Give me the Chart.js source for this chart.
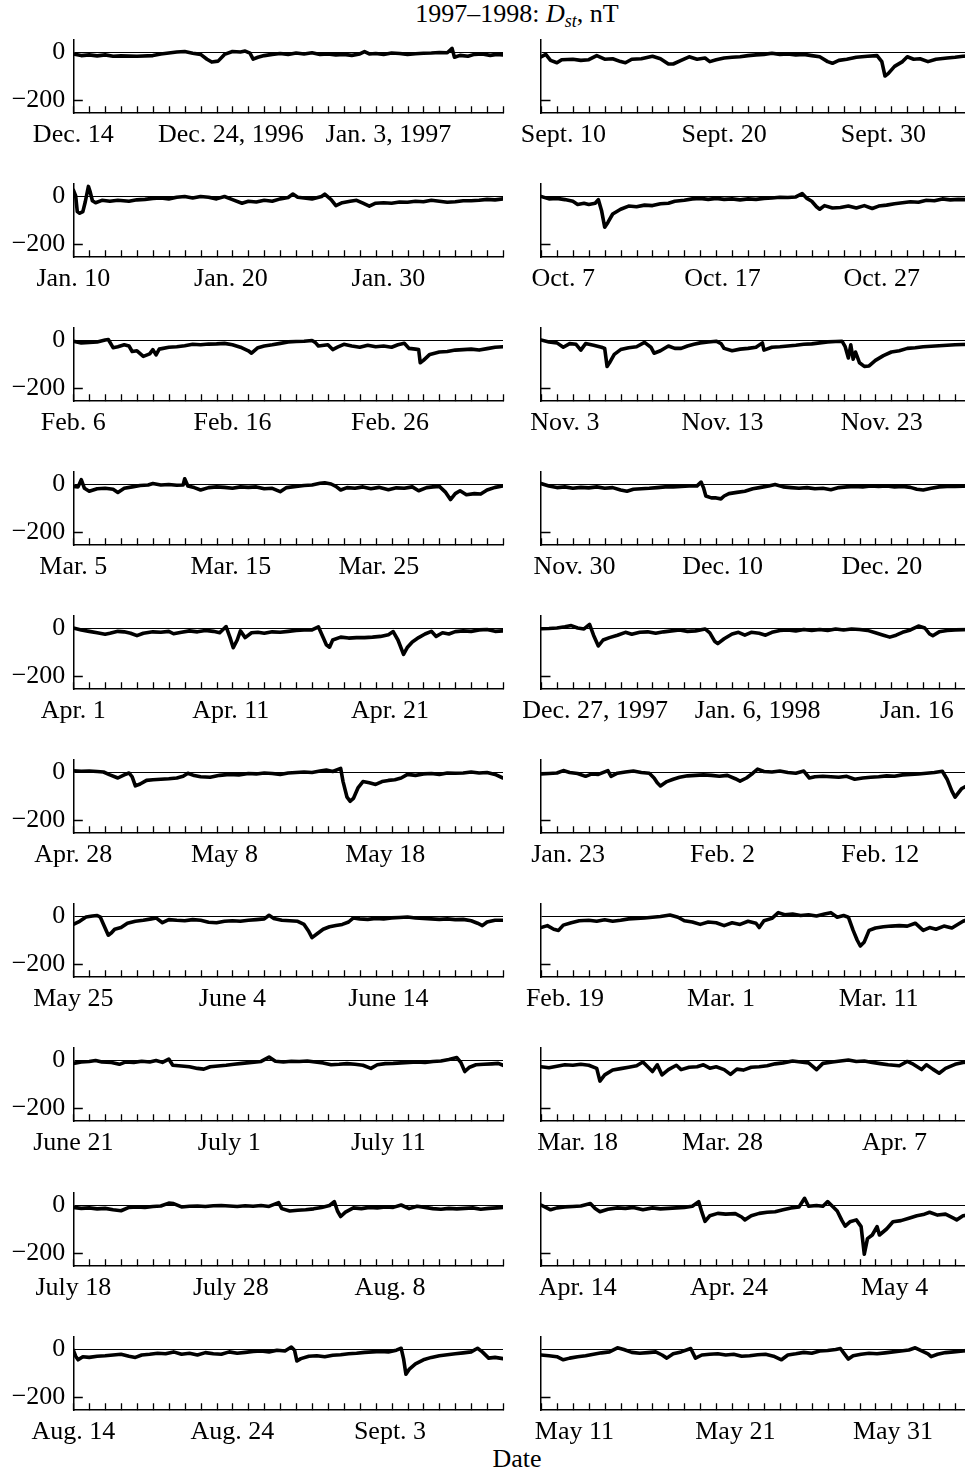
<!DOCTYPE html>
<html>
<head>
<meta charset="utf-8">
<script src="https://cdn.jsdelivr.net/npm/chart.js@4.4.1/dist/chart.umd.min.js"></script>
<style>
  body { margin: 0; background: #fff; overflow: hidden; }
  #page { position: relative; width: 965px; height: 1472px; overflow: hidden; background: #fff;
          font-family: "Liberation Serif", "Times New Roman", serif; color: #000; }
  #page canvas { position: absolute; }
  #title { position: absolute; top: -1px; left: 517px; transform: translateX(-50%); font-size: 26px; white-space: nowrap; }
  #title sub { font-size: 18px; vertical-align: -5px; line-height: 0; }
  #xtitle { position: absolute; top: 1444px; left: 517px; transform: translateX(-50%); font-size: 26px; }
</style>
</head>
<body>
<div id="page">
  <div id="title">1997&ndash;1998: <i>D<sub>st</sub></i>, nT</div>
  <div id="xtitle">Date</div>
</div>
<script>
// Dst, nT: [day from panel start, value]
const dec14 = [[0,-8],[0.5,-15],[1,-12],[1.5,-16],[2,-12],[2.5,-18],[3,-16],[4,-18],[5,-15],[5.5,-8],[6,-4],[6.5,0],[7,2],[7.5,-5],[8,-10],[8.4,-30],[8.7,-42],[9.1,-38],[9.5,-10],[10,2],[10.5,0],[10.8,4],[11.1,-5],[11.3,-30],[11.6,-22],[12,-15],[12.5,-10],[13,-6],[13.5,-10],[14,-4],[14.5,-8],[15,-3],[15.5,-10],[16,-8],[16.5,-12],[17,-10],[17.5,-14],[18,-8],[18.3,2],[18.6,-8],[19,-6],[19.5,-10],[20,-4],[20.5,-6],[21,-10],[21.5,-7],[22,-5],[22.5,-4],[23,-2],[23.5,-3],[23.8,15],[23.95,-22],[24.3,-14],[24.8,-18],[25.2,-10],[25.7,-8],[26.2,-14],[26.6,-10],[27,-12]];
const jan10 = [[0,25],[0.15,0],[0.25,-65],[0.4,-72],[0.6,-65],[0.75,-25],[0.95,40],[1.05,20],[1.2,-20],[1.4,-28],[1.8,-18],[2.3,-22],[2.8,-18],[3.5,-22],[4,-16],[4.5,-14],[5,-10],[5.5,-8],[6,-12],[6.5,-5],[7,-2],[7.5,-8],[8,-2],[8.5,-5],[9,-12],[9.5,-2],[10,-15],[10.6,-30],[11,-22],[11.5,-25],[12,-18],[12.5,-22],[13,-12],[13.5,-6],[13.8,8],[14.1,-5],[14.5,-8],[15,-12],[15.6,-2],[15.8,8],[16.2,-15],[16.5,-40],[16.9,-28],[17.4,-22],[17.8,-18],[18.2,-30],[18.6,-42],[19,-30],[19.5,-28],[20,-30],[20.5,-25],[21,-26],[21.5,-22],[22,-24],[22.5,-18],[23,-22],[23.5,-26],[24,-24],[24.5,-20],[25,-20],[25.5,-18],[26,-14],[26.5,-16],[27,-12]];
const feb6 = [[0,-5],[0.5,-12],[1,-10],[1.5,-8],[2,0],[2.2,2],[2.5,-32],[2.8,-28],[3.2,-20],[3.5,-25],[3.7,-48],[4,-45],[4.4,-68],[4.8,-58],[5,-40],[5.2,-62],[5.4,-38],[6,-30],[6.5,-28],[7,-24],[7.5,-18],[8,-20],[8.5,-17],[9,-16],[9.5,-14],[10,-20],[10.5,-30],[11,-45],[11.2,-55],[11.6,-32],[12,-25],[12.5,-20],[13,-14],[13.5,-8],[14,-6],[14.5,-5],[15,-2],[15.2,-10],[15.4,-25],[16,-20],[16.3,-40],[16.6,-30],[17,-18],[17.5,-25],[18,-30],[18.5,-22],[19,-28],[19.5,-25],[20,-30],[20.4,-20],[20.8,-14],[21.1,-35],[21.5,-38],[21.7,-40],[21.8,-95],[22,-85],[22.4,-60],[23,-50],[23.5,-48],[24,-42],[24.5,-40],[25,-38],[25.5,-42],[26,-36],[26.5,-30],[27,-28]];
const mar5 = [[0,-10],[0.3,-12],[0.5,18],[0.7,-18],[1,-30],[1.5,-20],[2,-18],[2.5,-22],[2.8,-35],[3.2,-18],[3.7,-12],[4.2,-6],[4.7,-4],[5,2],[5.5,-4],[6,-2],[6.5,-5],[6.9,-4],[7,22],[7.2,-8],[7.6,-15],[8,-25],[8.5,-15],[9,-12],[9.5,-14],[10,-18],[10.5,-12],[11,-14],[11.5,-12],[12,-20],[12.5,-18],[13,-32],[13.4,-15],[14,-10],[14.5,-6],[15,-4],[15.5,3],[15.8,5],[16.2,0],[16.5,-10],[16.8,-25],[17.2,-15],[17.7,-18],[18.2,-12],[18.7,-20],[19.2,-14],[19.8,-24],[20.3,-16],[20.8,-18],[21.3,-12],[21.7,-28],[22.2,-15],[22.6,-12],[23,-10],[23.4,-35],[23.7,-65],[24,-40],[24.3,-28],[24.7,-45],[25.2,-40],[25.6,-42],[26,-25],[26.5,-14],[27,-8]];
const apr1 = [[0,0],[0.5,-8],[1,-14],[1.5,-20],[2,-26],[2.3,-22],[2.8,-14],[3.2,-16],[3.6,-22],[4,-32],[4.4,-22],[5,-16],[5.5,-18],[6,-14],[6.3,-24],[6.8,-18],[7.3,-12],[7.8,-16],[8.3,-10],[8.8,-14],[9.2,-20],[9.6,6],[9.85,-40],[10.05,-82],[10.3,-50],[10.5,-12],[10.8,-40],[11.2,-20],[11.6,-18],[12,-22],[12.5,-16],[13,-18],[13.5,-14],[14,-10],[14.5,-8],[15,-8],[15.4,5],[15.7,-40],[15.9,-70],[16.1,-80],[16.3,-50],[16.8,-38],[17.3,-42],[17.8,-40],[18.3,-40],[18.8,-38],[19.3,-35],[19.8,-28],[20.1,-15],[20.4,-50],[20.75,-110],[21,-80],[21.3,-58],[21.7,-40],[22.1,-25],[22.5,-14],[22.8,-35],[23.2,-20],[23.6,-25],[24,-15],[24.5,-12],[25,-14],[25.5,-8],[26,-6],[26.5,-14],[27,-12]];
const apr28 = [[0,5],[0.5,3],[1,4],[1.5,2],[1.9,0],[2.3,-12],[2.8,-25],[3.2,-12],[3.5,-4],[3.7,-20],[3.9,-58],[4.2,-50],[4.6,-35],[5,-32],[5.5,-30],[6,-28],[6.5,-25],[6.9,-18],[7.2,-5],[7.6,-15],[8,-20],[8.6,-22],[9.2,-14],[9.8,-10],[10.4,-12],[11,-6],[11.5,-8],[12,-4],[12.5,-6],[13,-10],[13.5,-4],[14,-2],[14.5,0],[15,-2],[15.5,4],[15.9,8],[16.3,2],[16.8,15],[16.95,-40],[17.2,-105],[17.4,-122],[17.6,-110],[17.9,-65],[18.2,-40],[18.6,-45],[19,-52],[19.4,-40],[19.8,-35],[20.2,-32],[20.6,-25],[21,-10],[21.5,-14],[22,-8],[22.5,-6],[23,-10],[23.5,-4],[24,-5],[24.5,-4],[25,0],[25.5,-4],[26,-2],[26.5,-10],[27,-25]];
const may25 = [[0,-35],[0.4,-22],[0.8,-4],[1.2,0],[1.5,2],[1.7,-5],[1.9,-35],[2.2,-80],[2.4,-70],[2.6,-55],[3,-48],[3.4,-30],[3.9,-22],[4.4,-18],[4.9,-12],[5.2,-8],[5.6,-28],[6,-15],[6.5,-18],[7,-20],[7.5,-15],[8,-18],[8.5,-26],[9,-28],[9.5,-22],[10,-20],[10.5,-22],[11,-18],[11.5,-15],[12,-12],[12.3,3],[12.6,-10],[13.1,-18],[13.6,-20],[14.1,-22],[14.5,-35],[14.8,-65],[15,-90],[15.3,-75],[15.7,-55],[16.1,-45],[16.5,-40],[16.9,-35],[17.3,-25],[17.6,-8],[18,-12],[18.5,-14],[19,-10],[19.5,-12],[20,-8],[20.5,-6],[21,-4],[21.5,-8],[22,-10],[22.5,-12],[23,-14],[23.5,-12],[24,-15],[24.5,-14],[25,-20],[25.4,-30],[25.7,-40],[26,-25],[26.5,-18],[27,-18]];
const jun21 = [[0,-14],[0.5,-8],[1,-6],[1.4,-2],[1.8,-8],[2.4,-10],[2.9,-18],[3.3,-8],[3.8,-10],[4.3,-5],[4.8,-8],[5.2,-2],[5.6,-10],[6,4],[6.25,-22],[6.8,-25],[7.3,-28],[7.8,-35],[8.2,-38],[8.6,-28],[9.1,-25],[9.6,-22],[10.1,-18],[10.6,-14],[11.2,-10],[11.8,-6],[12.3,12],[12.7,-5],[13.2,-8],[13.7,-5],[14.2,-6],[14.7,-4],[15.2,-8],[15.7,-12],[16.2,-20],[16.7,-18],[17.2,-15],[17.7,-18],[18.2,-22],[18.7,-35],[19.1,-20],[19.6,-15],[20.1,-14],[20.6,-12],[21.1,-10],[21.6,-8],[22.1,-10],[22.6,-6],[23.1,-4],[23.6,2],[24.1,10],[24.35,-10],[24.6,-48],[24.9,-30],[25.3,-20],[25.8,-18],[26.3,-16],[26.7,-14],[27,-22]];
const jul18 = [[0,-10],[0.5,-14],[1,-12],[1.5,-16],[2,-14],[2.5,-20],[3,-24],[3.5,-10],[4,-8],[4.5,-10],[5,-6],[5.5,-4],[6,8],[6.3,6],[6.8,-8],[7.3,-5],[7.8,-4],[8.3,-6],[8.8,-3],[9.3,-2],[9.8,-4],[10.3,-6],[10.8,-3],[11.3,-5],[11.8,-2],[12.3,-6],[12.9,10],[13.1,-15],[13.6,-25],[14.1,-22],[14.6,-20],[15.1,-16],[15.6,-10],[16.1,-2],[16.4,14],[16.6,-25],[16.8,-48],[17.1,-30],[17.6,-12],[18.1,-15],[18.6,-10],[19.1,-12],[19.6,-8],[20.1,-10],[20.6,0],[21.1,-15],[21.6,-5],[22.1,-10],[22.6,-15],[23.1,-18],[23.6,-14],[24.1,-16],[24.6,-14],[25.1,-12],[25.6,-18],[26.1,-14],[26.6,-12],[27,-10]];
const aug14 = [[0,-5],[0.15,-30],[0.3,-45],[0.6,-32],[1,-35],[1.5,-30],[2,-28],[2.5,-25],[3,-22],[3.5,-30],[3.9,-35],[4.3,-25],[4.8,-22],[5.3,-18],[5.8,-20],[6.3,-12],[6.8,-22],[7.3,-18],[7.8,-25],[8.3,-15],[8.8,-20],[9.3,-22],[9.8,-12],[10.3,-18],[10.8,-14],[11.3,-10],[11.8,-8],[12.3,-12],[12.8,-5],[13.3,-8],[13.7,8],[13.9,-5],[14.05,-50],[14.3,-40],[14.8,-30],[15.3,-28],[15.8,-32],[16.3,-26],[16.8,-24],[17.3,-20],[17.8,-18],[18.3,-14],[18.8,-12],[19.3,-10],[19.8,-12],[20.3,-5],[20.6,3],[20.75,-40],[20.9,-105],[21.1,-85],[21.5,-62],[22,-45],[22.5,-35],[23,-28],[23.5,-24],[24,-20],[24.5,-16],[25,-12],[25.4,3],[25.7,-12],[26.1,-38],[26.5,-35],[27,-40]];
const sep10 = [[0,-20],[0.3,-10],[0.6,-35],[1,-45],[1.3,-32],[2,-30],[2.5,-35],[3,-32],[3.5,-15],[4,-30],[4.5,-28],[5,-40],[5.3,-45],[5.7,-30],[6.3,-28],[7,-18],[7.5,-28],[8,-50],[8.3,-50],[8.8,-35],[9.3,-20],[9.8,-30],[10.3,-25],[10.6,-40],[11,-32],[11.5,-25],[12,-22],[12.5,-20],[13,-15],[13.5,-12],[14,-10],[14.5,-5],[15,-10],[15.5,-8],[16,-12],[16.5,-10],[17,-15],[17.5,-20],[18,-40],[18.3,-47],[18.7,-35],[19.2,-30],[19.8,-22],[20.5,-18],[21.1,-15],[21.4,-40],[21.6,-100],[21.8,-90],[22.2,-60],[22.7,-40],[23,-20],[23.4,-30],[23.8,-28],[24.3,-40],[24.8,-30],[25.5,-25],[26,-22],[26.5,-18],[27,-16]];
const oct7 = [[0,-2],[0.5,-12],[1,-10],[1.5,-15],[2,-22],[2.3,-35],[2.7,-30],[3,-35],[3.4,-30],[3.6,-15],[3.8,-60],[4,-130],[4.2,-110],[4.5,-75],[5,-55],[5.5,-42],[6,-45],[6.5,-38],[7,-40],[7.5,-32],[8,-30],[8.4,-22],[9,-18],[9.5,-12],[10,-10],[10.5,-14],[11,-10],[11.5,-14],[12,-12],[12.5,-16],[13,-12],[13.5,-14],[14,-10],[14.5,-8],[15,-5],[15.5,-6],[16,-4],[16.4,10],[16.7,-10],[17,-22],[17.3,-45],[17.5,-55],[17.8,-40],[18.3,-50],[18.8,-48],[19.3,-42],[19.8,-50],[20.3,-40],[20.8,-52],[21.2,-42],[21.7,-38],[22.2,-32],[22.7,-28],[23.2,-24],[23.7,-26],[24.2,-18],[24.7,-20],[25.2,-12],[25.7,-16],[26.2,-14],[27,-15]];
const nov3 = [[0,0],[0.5,-8],[1,-12],[1.4,-30],[1.8,-15],[2.2,-18],[2.5,-42],[2.8,-15],[3.3,-22],[3.8,-30],[4,-35],[4.15,-110],[4.3,-95],[4.6,-60],[5,-40],[5.5,-32],[6,-28],[6.5,-10],[6.9,-30],[7.1,-55],[7.5,-45],[8,-25],[8.4,-35],[8.8,-35],[9.2,-25],[9.6,-18],[10,-12],[10.5,-8],[11,-5],[11.3,-15],[11.5,-35],[12,-45],[12.5,-38],[13,-35],[13.5,-30],[13.9,-12],[14,-42],[14.5,-30],[15,-28],[15.5,-25],[16,-22],[16.5,-18],[17,-16],[17.5,-12],[18,-8],[18.5,-6],[18.9,-5],[19.1,-28],[19.3,-75],[19.45,-20],[19.6,-80],[19.75,-50],[20,-95],[20.3,-110],[20.6,-108],[21,-85],[21.5,-65],[22,-50],[22.5,-45],[23,-35],[23.5,-32],[24,-28],[24.5,-26],[25,-24],[25.5,-22],[26,-20],[27,-18]];
const nov30 = [[0,2],[0.5,-8],[1,-15],[1.5,-12],[2,-18],[2.5,-14],[3,-16],[3.5,-12],[4,-18],[4.5,-15],[5,-25],[5.4,-30],[5.8,-22],[6.3,-20],[6.8,-18],[7.3,-15],[7.8,-12],[8.3,-12],[8.8,-10],[9.3,-8],[9.8,-8],[10.05,8],[10.2,-15],[10.35,-50],[10.7,-58],[11,-58],[11.3,-62],[11.5,-50],[11.8,-40],[12.3,-35],[12.8,-30],[13.3,-20],[13.8,-14],[14.3,-8],[14.7,-2],[15.2,-12],[15.7,-15],[16.2,-18],[16.7,-15],[17.2,-20],[17.7,-18],[18.2,-24],[18.7,-15],[19.2,-12],[19.7,-10],[20.2,-12],[20.7,-8],[21.2,-10],[21.7,-8],[22.2,-12],[22.7,-10],[23.2,-14],[23.6,-22],[24,-25],[24.5,-18],[25,-12],[25.5,-10],[26,-10],[27,-8]];
const dec27 = [[0,-3],[0.5,-2],[1,0],[1.5,5],[1.9,10],[2.3,0],[2.7,-4],[3.05,15],[3.3,-30],[3.6,-75],[3.9,-50],[4.3,-40],[4.8,-30],[5.3,-18],[5.7,-26],[6.2,-18],[6.7,-16],[7.2,-22],[7.7,-16],[8.2,-12],[8.7,-8],[9.2,-14],[9.7,-12],[10.3,-4],[10.6,-20],[10.9,-55],[11.1,-65],[11.5,-45],[12,-25],[12.4,-18],[12.8,-30],[13.2,-18],[13.7,-22],[14.1,-30],[14.5,-18],[15,-10],[15.5,-8],[16,-12],[16.5,-6],[17,-10],[17.5,-6],[18,-10],[18.5,-4],[19,-8],[19.5,-4],[20,-6],[20.5,-10],[21,-20],[21.5,-30],[21.9,-38],[22.3,-30],[22.7,-18],[23.2,-8],[23.7,8],[24.1,0],[24.4,-25],[24.6,-32],[25,-16],[25.5,-10],[26,-8],[27,-6]];
const jan23 = [[0,-8],[0.5,-6],[1,-4],[1.4,6],[1.8,-2],[2.3,-6],[2.8,-18],[3.2,-8],[3.6,-10],[4.2,6],[4.4,-18],[4.8,-5],[5.3,0],[5.8,4],[6.3,-2],[6.8,-5],[7.1,-25],[7.3,-45],[7.5,-58],[7.9,-40],[8.3,-30],[8.7,-22],[9.2,-16],[9.7,-14],[10.2,-12],[10.7,-14],[11.2,-18],[11.7,-14],[12.2,-28],[12.5,-38],[12.9,-25],[13.3,-5],[13.6,12],[14,2],[14.5,0],[15,4],[15.5,-2],[16,-5],[16.5,4],[16.85,-25],[17.2,-20],[17.7,-18],[18.2,-20],[18.7,-22],[19.2,-18],[19.7,-30],[20.2,-25],[20.7,-22],[21.2,-20],[21.7,-16],[22.2,-18],[22.7,-12],[23.2,-10],[23.7,-8],[24.2,-5],[24.7,-2],[25.2,3],[25.5,-30],[25.8,-80],[26,-105],[26.4,-70],[26.8,-55],[27,-45]];
const feb19 = [[0,-48],[0.4,-40],[0.8,-55],[1.1,-60],[1.4,-38],[1.9,-28],[2.4,-20],[3,-18],[3.5,-22],[4,-16],[4.5,-22],[5,-18],[5.5,-12],[6,-10],[6.5,-8],[7,-5],[7.5,-2],[8.1,4],[8.6,-5],[9,-20],[9.5,-25],[10,-35],[10.5,-25],[11,-28],[11.5,-40],[12,-28],[12.5,-35],[13,-22],[13.5,-30],[13.7,-48],[14,-20],[14.5,-10],[14.9,14],[15.3,5],[15.8,8],[16.3,2],[16.8,5],[17.3,0],[17.8,8],[18.2,14],[18.6,-5],[19,2],[19.3,-5],[19.6,-60],[19.85,-100],[20.05,-125],[20.3,-108],[20.6,-60],[21,-50],[21.5,-45],[22,-42],[22.5,-40],[23,-42],[23.5,-30],[24,-60],[24.4,-48],[24.8,-55],[25.3,-42],[25.8,-50],[26.5,-22],[27,-10]];
const mar18 = [[0,-28],[0.5,-32],[1,-26],[1.5,-20],[2,-22],[2.5,-18],[3,-22],[3.3,-30],[3.5,-35],[3.7,-88],[4,-62],[4.5,-42],[5,-36],[5.5,-30],[6,-24],[6.4,-8],[6.7,-28],[7,-48],[7.3,-20],[7.6,-62],[8,-40],[8.5,-22],[8.8,-40],[9.3,-30],[9.8,-28],[10.2,-20],[10.6,-34],[11,-28],[11.5,-40],[11.9,-60],[12.3,-38],[12.7,-42],[13.2,-30],[13.7,-28],[14.2,-24],[14.7,-16],[15.2,-12],[15.8,-4],[16.3,-8],[16.8,-12],[17.3,-40],[17.7,-14],[18.3,-8],[18.8,-4],[19.3,0],[19.8,-6],[20.3,-4],[20.8,-10],[21.3,-15],[21.8,-20],[22.5,-24],[23,-6],[23.3,-15],[23.9,-40],[24.2,-20],[24.6,-38],[25,-55],[25.4,-35],[26,-18],[26.5,-10],[27,-8]];
const apr14 = [[0,0],[0.3,-10],[0.6,-20],[1,-12],[1.5,-8],[2,-6],[2.5,-4],[3.1,6],[3.4,-15],[3.7,-28],[4.2,-18],[4.8,-12],[5.3,-14],[5.8,-10],[6.4,-20],[7,-12],[7.5,-16],[8,-14],[8.5,-12],[9,-10],[9.5,-5],[9.9,14],[10.1,-30],[10.3,-68],[10.6,-45],[11.1,-35],[11.6,-38],[12.2,-36],[12.6,-50],[12.8,-62],[13.2,-45],[13.7,-35],[14.2,-30],[14.7,-28],[15.2,-20],[15.7,-12],[16.2,-8],[16.55,28],[16.8,-5],[17.3,-2],[17.7,-5],[18,14],[18.3,-5],[18.6,-25],[18.9,-65],[19.1,-88],[19.4,-70],[19.8,-62],[20.1,-90],[20.3,-205],[20.5,-140],[20.8,-125],[21.1,-90],[21.25,-125],[21.7,-100],[22.1,-70],[22.6,-65],[23.1,-55],[23.6,-45],[24,-40],[24.4,-30],[24.9,-42],[25.4,-38],[25.9,-55],[26.1,-62],[26.5,-45],[27,-40]];
const may11 = [[0,-25],[0.5,-28],[1,-32],[1.4,-45],[1.8,-38],[2.3,-32],[2.8,-28],[3.3,-22],[3.8,-16],[4.3,-12],[4.8,5],[5.2,-2],[5.7,-14],[6.2,-18],[6.7,-15],[7.2,-12],[7.6,-25],[7.9,-38],[8.3,-20],[8.8,-12],[9.4,2],[9.7,-38],[10.1,-25],[10.6,-22],[11.1,-20],[11.6,-25],[12.1,-22],[12.6,-30],[13.1,-28],[13.6,-24],[14.1,-22],[14.6,-30],[15.1,-45],[15.5,-25],[16,-20],[16.5,-14],[17,-18],[17.5,-8],[18,-6],[18.5,-2],[18.8,2],[19.05,-20],[19.3,-42],[19.6,-28],[20.1,-22],[20.6,-18],[21.1,-20],[21.6,-16],[22.1,-12],[22.6,-8],[23.1,-4],[23.5,5],[23.9,-8],[24.3,-20],[24.5,-32],[24.9,-22],[25.4,-15],[25.9,-12],[26.5,-8],[27,-6]];

// date labels under each panel, and where they sit (days from panel start)
const leftLabels = [
  ['Dec. 14', 'Dec. 24, 1996', 'Jan. 3, 1997'],
  ['Jan. 10', 'Jan. 20', 'Jan. 30'],
  ['Feb. 6', 'Feb. 16', 'Feb. 26'],
  ['Mar. 5', 'Mar. 15', 'Mar. 25'],
  ['Apr. 1', 'Apr. 11', 'Apr. 21'],
  ['Apr. 28', 'May 8', 'May 18'],
  ['May 25', 'June 4', 'June 14'],
  ['June 21', 'July 1', 'July 11'],
  ['July 18', 'July 28', 'Aug. 8'],
  ['Aug. 14', 'Aug. 24', 'Sept. 3']
];
const rightLabels = [
  ['Sept. 10', 'Sept. 20', 'Sept. 30'],
  ['Oct. 7', 'Oct. 17', 'Oct. 27'],
  ['Nov. 3', 'Nov. 13', 'Nov. 23'],
  ['Nov. 30', 'Dec. 10', 'Dec. 20'],
  ['Dec. 27, 1997', 'Jan. 6, 1998', 'Jan. 16'],
  ['Jan. 23', 'Feb. 2', 'Feb. 12'],
  ['Feb. 19', 'Mar. 1', 'Mar. 11'],
  ['Mar. 18', 'Mar. 28', 'Apr. 7'],
  ['Apr. 14', 'Apr. 24', 'May 4'],
  ['May 11', 'May 21', 'May 31']
];
const leftLabelDays = [
  [0, 9.9, 19.8], [0, 9.9, 19.8], [0, 10, 19.9], [0, 9.9, 19.2], [0, 9.9, 19.9],
  [0, 9.5, 19.6], [0, 10, 19.8], [0, 9.8, 19.8], [0, 9.9, 19.9], [0, 10, 19.9]
];
const rightLabelDays = [
  [1.4, 11.5, 21.5], [1.4, 11.4, 21.4], [1.5, 11.4, 21.4], [2.1, 11.4, 21.4], [3.4, 13.6, 23.6],
  [1.7, 11.4, 21.3], [1.5, 11.3, 21.2], [2.3, 11.4, 22.2], [2.3, 11.8, 22.2], [2.1, 12.2, 22.1]
];
const leftSeries = [dec14, jan10, feb6, mar5, apr1, apr28, may25, jun21, jul18, aug14];
const rightSeries = [sep10, oct7, nov3, nov30, dec27, jan23, feb19, mar18, apr14, may11];
const yTicks = [-200, 0];
const DAYS = 27;

Chart.defaults.font.family = '"Liberation Serif", "Times New Roman", serif';
Chart.defaults.font.size = 26;
Chart.defaults.color = '#000';

// inward day ticks on the time axis and the -200 mark on the Dst axis
const inTicks = {
  id: 'inTicks',
  afterDraw(chart) {
    const {ctx, chartArea: a, scales: {x, y}} = chart;
    ctx.save();
    ctx.strokeStyle = '#000';
    ctx.lineWidth = 1.3;
    ctx.beginPath();
    for (let d = 0; d <= DAYS; d++) {
      const px = Math.round(x.getPixelForValue(d)) + 0.5;
      ctx.moveTo(px, a.bottom);
      ctx.lineTo(px, a.bottom - 7);
    }
    const py = Math.round(y.getPixelForValue(-200)) + 0.5;
    ctx.moveTo(a.left, py);
    ctx.lineTo(a.left + 9.5, py);
    ctx.stroke();
    ctx.restore();
  }
};

const page = document.getElementById('page');
// PAD_TOP leaves room for the "0" label so the plot area is not pushed down
const ROW0 = 51.7, ROW_STEP = 144.1, PAD_TOP = 30, AREA_H = 305 * 0.24, XAXIS_H = 46.8;
const CANVAS_H = Math.round(PAD_TOP + AREA_H + XAXIS_H);

function makePanel(row, col) {
  const left = col === 0;
  const data = left ? leftSeries[row] : rightSeries[row];
  const labels = left ? leftLabels[row] : rightLabels[row];
  const labelDays = left ? leftLabelDays[row] : rightLabelDays[row];
  const yAxisW = left ? 73.3 : 100;
  const cv = document.createElement('canvas');
  const w = left ? 510 : 530;
  cv.width = w; cv.height = CANVAS_H;
  cv.style.left = (left ? 0 : 441) + 'px';
  cv.style.top = (ROW0 + row * ROW_STEP - 50 * 0.24 - PAD_TOP) + 'px';
  page.appendChild(cv);

  new Chart(cv, {
    type: 'line',
    data: {
      datasets: [{
        data: data,
        borderColor: '#000',
        borderWidth: 3.6,
        pointRadius: 0,
        tension: 0,
        borderJoinStyle: 'round',
        borderCapStyle: 'round'
      }]
    },
    options: {
      responsive: false,
      animation: false,
      devicePixelRatio: 1,
      events: [],
      layout: { padding: { top: PAD_TOP, right: left ? 7 : 0, left: 0, bottom: 0 } },
      plugins: { legend: { display: false }, tooltip: { enabled: false } },
      scales: {
        x: {
          type: 'linear',
          min: 0,
          max: DAYS,
          afterFit: s => { s.height = CANVAS_H - PAD_TOP - AREA_H; },
          afterBuildTicks: s => { s.ticks = labelDays.map(v => ({ value: v })); },
          grid: { color: 'rgba(0,0,0,0)', drawTicks: false },
          border: { display: true, color: '#000', width: 1.5 },
          ticks: {
            autoSkip: false,
            maxRotation: 0,
            padding: 6,
            callback: (v, i) => labels[i]
          }
        },
        y: {
          min: -255,
          max: 50,
          afterFit: s => { s.width = yAxisW; },
          afterBuildTicks: s => { s.ticks = yTicks.map(v => ({ value: v })); },
          grid: {
            drawTicks: false,
            lineWidth: 1,
            color: c => (c.tick && c.tick.value === 0 ? '#000' : 'rgba(0,0,0,0)')
          },
          border: { display: true, color: '#000', width: 1.5 },
          ticks: {
            display: left,
            padding: 8,
            callback: v => (v === 0 ? '0' : '\u2212' + Math.abs(v))
          }
        }
      }
    },
    plugins: [inTicks]
  });
}

for (let r = 0; r < 10; r++) {
  makePanel(r, 0);
  makePanel(r, 1);
}
</script>
</body>
</html>
